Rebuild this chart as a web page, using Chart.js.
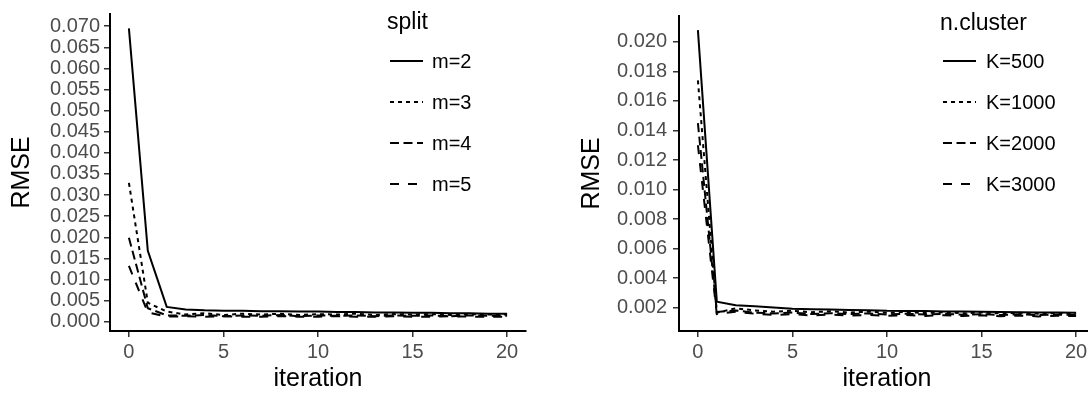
<!DOCTYPE html>
<html>
<head>
<meta charset="utf-8">
<script src="https://cdn.jsdelivr.net/npm/chart.js@4/dist/chart.umd.min.js"></script>
<style>
  html, body { margin: 0; padding: 0; background: #fff; overflow: hidden; width: 1088px; height: 394px; }
  canvas { position: absolute; top: 0; }
  #left-chart { left: 0; }
  #right-chart { left: 544px; }
</style>
</head>
<body>
<canvas id="left-chart" width="544" height="394"></canvas>
<canvas id="right-chart" width="569" height="394"></canvas>
<script>
// iterations on the x axis
const iterations = [0, 1, 2, 3, 4, 5, 6, 7, 8, 9, 10, 11, 12, 13, 14, 15, 16, 17, 18, 19, 20];
const xTickValues = [0, 5, 10, 15, 20];

// left panel: split
const splitTitle = 'split';
const splitLabels = ['m=2', 'm=3', 'm=4', 'm=5'];
const rmseM2 = [0.0695, 0.0168, 0.0035, 0.0029, 0.0027, 0.0026, 0.0026, 0.0025, 0.0025, 0.0024, 0.0024, 0.0023, 0.0023, 0.0022, 0.0022, 0.0021, 0.0021, 0.0020, 0.0020, 0.0019, 0.0019];
const rmseM3 = [0.0329, 0.0045, 0.0024, 0.0017, 0.0020, 0.0016, 0.0019, 0.0017, 0.0019, 0.0016, 0.0018, 0.0017, 0.0019, 0.0016, 0.0018, 0.0017, 0.0018, 0.0016, 0.0018, 0.0017, 0.0017];
const rmseM4 = [0.0199, 0.0032, 0.0015, 0.0014, 0.0016, 0.0013, 0.0015, 0.0014, 0.0016, 0.0013, 0.0015, 0.0014, 0.0015, 0.0013, 0.0015, 0.0014, 0.0015, 0.0013, 0.0015, 0.0014, 0.0014];
const rmseM5 = [0.0132, 0.0022, 0.0012, 0.0013, 0.0012, 0.0013, 0.0012, 0.0012, 0.0013, 0.0012, 0.0012, 0.0013, 0.0012, 0.0012, 0.0013, 0.0012, 0.0012, 0.0013, 0.0012, 0.0012, 0.0012];
const splitTickValues = [0, 0.005, 0.010, 0.015, 0.020, 0.025, 0.030, 0.035, 0.040, 0.045, 0.050, 0.055, 0.060, 0.065, 0.070];

// right panel: n.cluster
const clusterTitle = 'n.cluster';
const clusterLabels = ['K=500', 'K=1000', 'K=2000', 'K=3000'];
const rmseK500 = [0.0208, 0.00240, 0.00215, 0.00208, 0.00201, 0.00192, 0.00188, 0.00186, 0.00184, 0.00182, 0.00178, 0.00177, 0.00176, 0.00174, 0.00173, 0.00171, 0.00170, 0.00168, 0.00167, 0.00166, 0.00164];
const rmseK1000 = [0.0174, 0.00165, 0.00195, 0.00180, 0.00172, 0.00178, 0.00168, 0.00175, 0.00166, 0.00172, 0.00164, 0.00170, 0.00163, 0.00168, 0.00161, 0.00166, 0.00160, 0.00164, 0.00158, 0.00162, 0.00158];
const rmseK2000 = [0.0145, 0.00170, 0.00180, 0.00165, 0.00160, 0.00166, 0.00156, 0.00162, 0.00155, 0.00160, 0.00153, 0.00158, 0.00152, 0.00157, 0.00151, 0.00155, 0.00150, 0.00154, 0.00149, 0.00152, 0.00150];
const rmseK3000 = [0.0130, 0.00155, 0.00172, 0.00158, 0.00150, 0.00155, 0.00146, 0.00152, 0.00145, 0.00150, 0.00144, 0.00149, 0.00143, 0.00148, 0.00142, 0.00147, 0.00141, 0.00146, 0.00140, 0.00145, 0.00142];
const clusterTickValues = [0.002, 0.004, 0.006, 0.008, 0.010, 0.012, 0.014, 0.016, 0.018, 0.020];

const FONT = '"Liberation Sans", Arial, sans-serif';
const dashes = [[], [4, 4], [9, 4.5], [9, 9]];

function toPoints(values) {
    return iterations.map((it, i) => ({ x: it, y: values[i] }));
}

function buildDatasets(labels, series) {
    return series.map((values, i) => ({
        label: labels[i],
        data: toPoints(values),
        borderColor: '#000',
        borderWidth: 2,
        borderDash: dashes[i],
        pointRadius: 0,
        tension: 0,
        fill: false
    }));
}

/* legend drawn inside the panel like the ggplot one */
const keyLegend = {
    id: 'keyLegend',
    afterDraw(chart, args, opts) {
        const ctx = chart.ctx;
        ctx.save();
        ctx.fillStyle = '#000';
        ctx.font = '23px ' + FONT;
        ctx.textBaseline = 'alphabetic';
        ctx.textAlign = 'left';
        ctx.fillText(opts.title, opts.titleX, opts.titleY);
        ctx.font = '20px ' + FONT;
        ctx.textBaseline = 'middle';
        chart.data.datasets.forEach((ds, i) => {
            const y = opts.firstRow + i * opts.rowGap;
            ctx.strokeStyle = '#000';
            ctx.lineWidth = 2;
            ctx.setLineDash(ds.borderDash);
            ctx.beginPath();
            ctx.moveTo(opts.keyX, y);
            ctx.lineTo(opts.keyX + opts.keyWidth, y);
            ctx.stroke();
            ctx.setLineDash([]);
            ctx.fillText(ds.label, opts.labelX, y + 1);
        });
        ctx.restore();
    }
};

function makeChart(canvasId, labels, series, yMin, yMax, yTicks, cfg) {
    return new Chart(document.getElementById(canvasId), {
        type: 'line',
        data: { datasets: buildDatasets(labels, series) },
        options: {
            responsive: false,
            animation: false,
            layout: { padding: { top: 13, right: cfg.rightPad, left: 0, bottom: 0 } },
            plugins: {
                legend: { display: false },
                tooltip: { enabled: false },
                keyLegend: cfg.legend
            },
            scales: {
                x: {
                    type: 'linear',
                    min: -1,
                    max: 21,
                    afterBuildTicks: (scale) => { scale.ticks = xTickValues.map(v => ({ value: v })); },
                    afterFit: (scale) => { scale.height = 63; },
                    grid: { display: true, drawOnChartArea: false, drawTicks: true, tickLength: 6, color: '#333', lineWidth: 1.5 },
                    border: { display: true, color: '#000', width: 2 },
                    ticks: { color: '#4d4d4d', font: { size: 20, family: FONT }, padding: 3, maxRotation: 0, autoSkip: false, callback: (v) => String(v) },
                    title: { display: true, text: 'iteration', color: '#000', font: { size: 25, family: FONT }, padding: { top: 0, bottom: 0 } }
                },
                y: {
                    type: 'linear',
                    min: yMin,
                    max: yMax,
                    afterBuildTicks: (scale) => { scale.ticks = yTicks.map(v => ({ value: v })); },
                    afterFit: (scale) => { scale.width = cfg.yWidth; },
                    grid: { display: true, drawOnChartArea: false, drawTicks: true, tickLength: 6, color: '#333', lineWidth: 1.5 },
                    border: { display: true, color: '#000', width: 2 },
                    ticks: { color: '#4d4d4d', font: { size: 20, family: FONT, lineHeight: 1 }, padding: cfg.tickPad, autoSkip: false, callback: (v) => Number(v).toFixed(3) },
                    title: { display: true, text: 'RMSE', color: '#000', font: { size: 25, family: FONT }, padding: { top: cfg.titlePad, bottom: 0 } }
                }
            }
        },
        plugins: [keyLegend]
    });
}

makeChart('left-chart', splitLabels, [rmseM2, rmseM3, rmseM4, rmseM5], -0.0022, 0.0729, splitTickValues, {
    rightPad: 18, yWidth: 110, tickPad: 4, titlePad: 7,
    legend: { title: splitTitle, titleX: 387, titleY: 29, firstRow: 61, rowGap: 41, keyX: 390, keyWidth: 33, labelX: 432 }
});

makeChart('right-chart', clusterLabels, [rmseK500, rmseK1000, rmseK2000, rmseK3000], 0.00041, 0.02176, clusterTickValues, {
    rightPad: 18, yWidth: 135, tickPad: 6, titlePad: 33,
    legend: { title: clusterTitle, titleX: 396, titleY: 30, firstRow: 61, rowGap: 41, keyX: 399, keyWidth: 33, labelX: 442 }
});
</script>
</body>
</html>
